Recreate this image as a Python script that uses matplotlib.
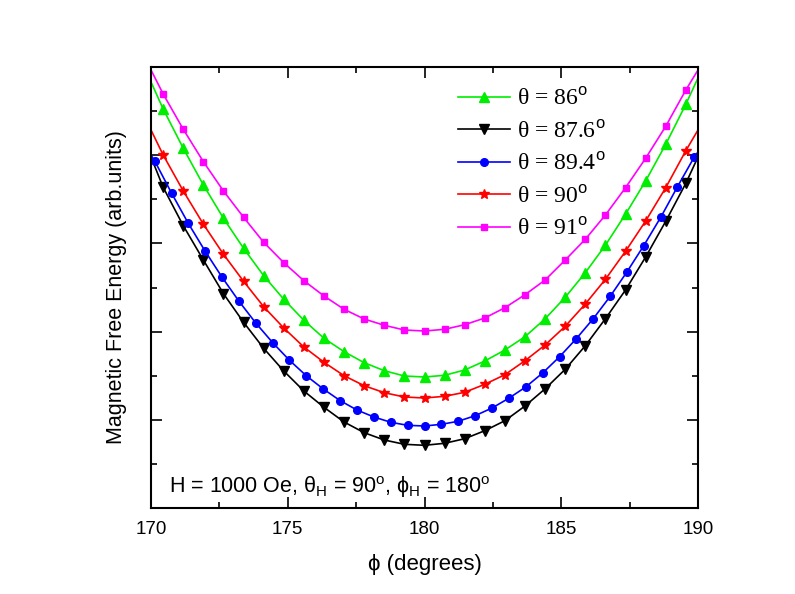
import matplotlib
matplotlib.use("Agg")
import matplotlib.pyplot as plt
from matplotlib.ticker import MultipleLocator

plt.rcParams['font.family'] = ['Liberation Sans', 'DejaVu Sans']
plt.rcParams['mathtext.fontset'] = 'custom'
plt.rcParams['mathtext.rm'] = 'Liberation Sans'
plt.rcParams['mathtext.it'] = 'Liberation Sans:italic'

# azimuthal angle grids (degrees); first/last points are curve ends at the frame
phi_a = [170.0, 170.445, 171.18, 171.915, 172.65, 173.385, 174.12, 174.855, 175.59,
         176.325, 177.06, 177.795, 178.53, 179.265, 180.0, 180.735, 181.47, 182.205,
         182.94, 183.675, 184.41, 185.145, 185.88, 186.615, 187.35, 188.085, 188.82,
         189.555, 190.0]
phi_b = [170.0, 170.13, 170.75, 171.36, 171.98, 172.60, 173.21, 173.83, 174.45, 175.06,
         175.68, 176.30, 176.92, 177.53, 178.15, 178.77, 179.38, 180.0, 180.62, 181.23,
         181.85, 182.47, 183.08, 183.70, 184.32, 184.94, 185.55, 186.17, 186.79, 187.40,
         188.02, 188.64, 189.25, 189.87, 190.0]

# magnetic free energy (arb. units)
E_86 = [426, 399, 359.7, 323, 289.7, 259.7, 232.3, 208.7, 187.7, 169.7, 156.3, 145.3,
        137.3, 132, 131, 132.7, 138, 147, 158, 171.3, 189.2, 210.7, 235.3, 262.8, 293.8,
        327, 363.7, 403.7, 430]
E_876 = [351, 320.7, 282.3, 248, 214.3, 185.7, 159.7, 137, 117, 100.7, 86, 75.3, 68,
         63.7, 62.7, 64.7, 69.3, 77.3, 87.3, 102, 119.2, 138.7, 162.3, 189.3, 218, 251,
         286.7, 324.7, 351]
E_894 = [353, 347.3, 315, 284.8, 256.8, 230.7, 207, 185, 165.3, 147.8, 132.2, 119, 107.3,
         98, 91, 85.7, 82.7, 82, 83.7, 86.7, 92.3, 100, 109.7, 121, 135, 151.3, 169.3,
         189.3, 211.7, 236, 262.5, 290.8, 321.3, 351.3, 356]
E_90 = [378, 353, 317, 283.8, 253.7, 226.7, 201.3, 180, 161, 145.7, 132.3, 122.3, 115.3,
        111, 110, 111.7, 115.7, 123.7, 133.3, 147.3, 163, 181.7, 204, 228.7, 256.7, 287,
        320.3, 357.3, 378]
E_91 = [438, 414, 378.7, 346.3, 317, 290.7, 265.7, 245.3, 227.3, 212, 198.7, 189, 182.7,
        178, 177, 178.7, 183.3, 190, 200.3, 213.3, 228, 248, 268.7, 293, 320.3, 349.7,
        381.7, 418, 438]

labels = [r"θ = 86$^{\rm o}$", r"θ = 87.6$^{\rm o}$", r"θ = 89.4$^{\rm o}$",
          r"θ = 90$^{\rm o}$", r"θ = 91$^{\rm o}$"]

fig = plt.figure(figsize=(7.95, 5.94), dpi=100)
ax = fig.add_axes([151/795, 86/594, 547/795, 441/594])

series = [
    (phi_a, E_86, '#00ee00', '^', 6.5),
    (phi_a, E_876, 'black', 'v', 6.5),
    (phi_b, E_894, '#0000ff', 'o', 5.5),
    (phi_a, E_90, '#ff0000', '*', 7.5),
    (phi_a, E_91, '#ff00ff', 's', 4.8),
]
for (x, y, c, m, ms), lab in zip(series, labels):
    ax.plot(x, y, color=c, marker=m, markersize=ms, lw=1.2, label=lab,
            markevery=slice(1, len(x) - 1), clip_on=False)

ax.set_xlim(170, 190)
ax.set_ylim(0, 441)
ax.xaxis.set_major_locator(MultipleLocator(5))
ax.xaxis.set_minor_locator(MultipleLocator(2.5))
ax.yaxis.set_major_locator(MultipleLocator(88.2))
ax.yaxis.set_minor_locator(MultipleLocator(44.1))
ax.tick_params(which='both', direction='in', top=True, right=True, width=1.2)
ax.tick_params(which='major', length=8, labelsize=13.5, pad=9)
ax.tick_params(which='minor', length=4.5)
ax.tick_params(axis='y', labelleft=False)
for s in ax.spines.values():
    s.set_linewidth(1.5)

ax.set_xlabel("ϕ (degrees)", fontsize=16, labelpad=12)
ax.set_ylabel("Magnetic Free Energy (arb.units)", fontsize=15.5, labelpad=14)

ax.text(0.032, 0.033,
        r"H = 1000 Oe, θ$_{\rm H}$ = 90$^{\rm o}$, ϕ$_{\rm H}$ = 180$^{\rm o}$",
        transform=ax.transAxes, fontsize=15.5, va='baseline', ha='left')

leg = ax.legend(loc='upper left', bbox_to_anchor=(0.561, 0.953), frameon=False,
                prop={'family': ['Liberation Serif', 'DejaVu Serif'], 'size': 17},
                handlelength=2.2, handletextpad=0.3, labelspacing=0.44,
                borderaxespad=0, borderpad=0)

fig.savefig("out.png", dpi=100)
